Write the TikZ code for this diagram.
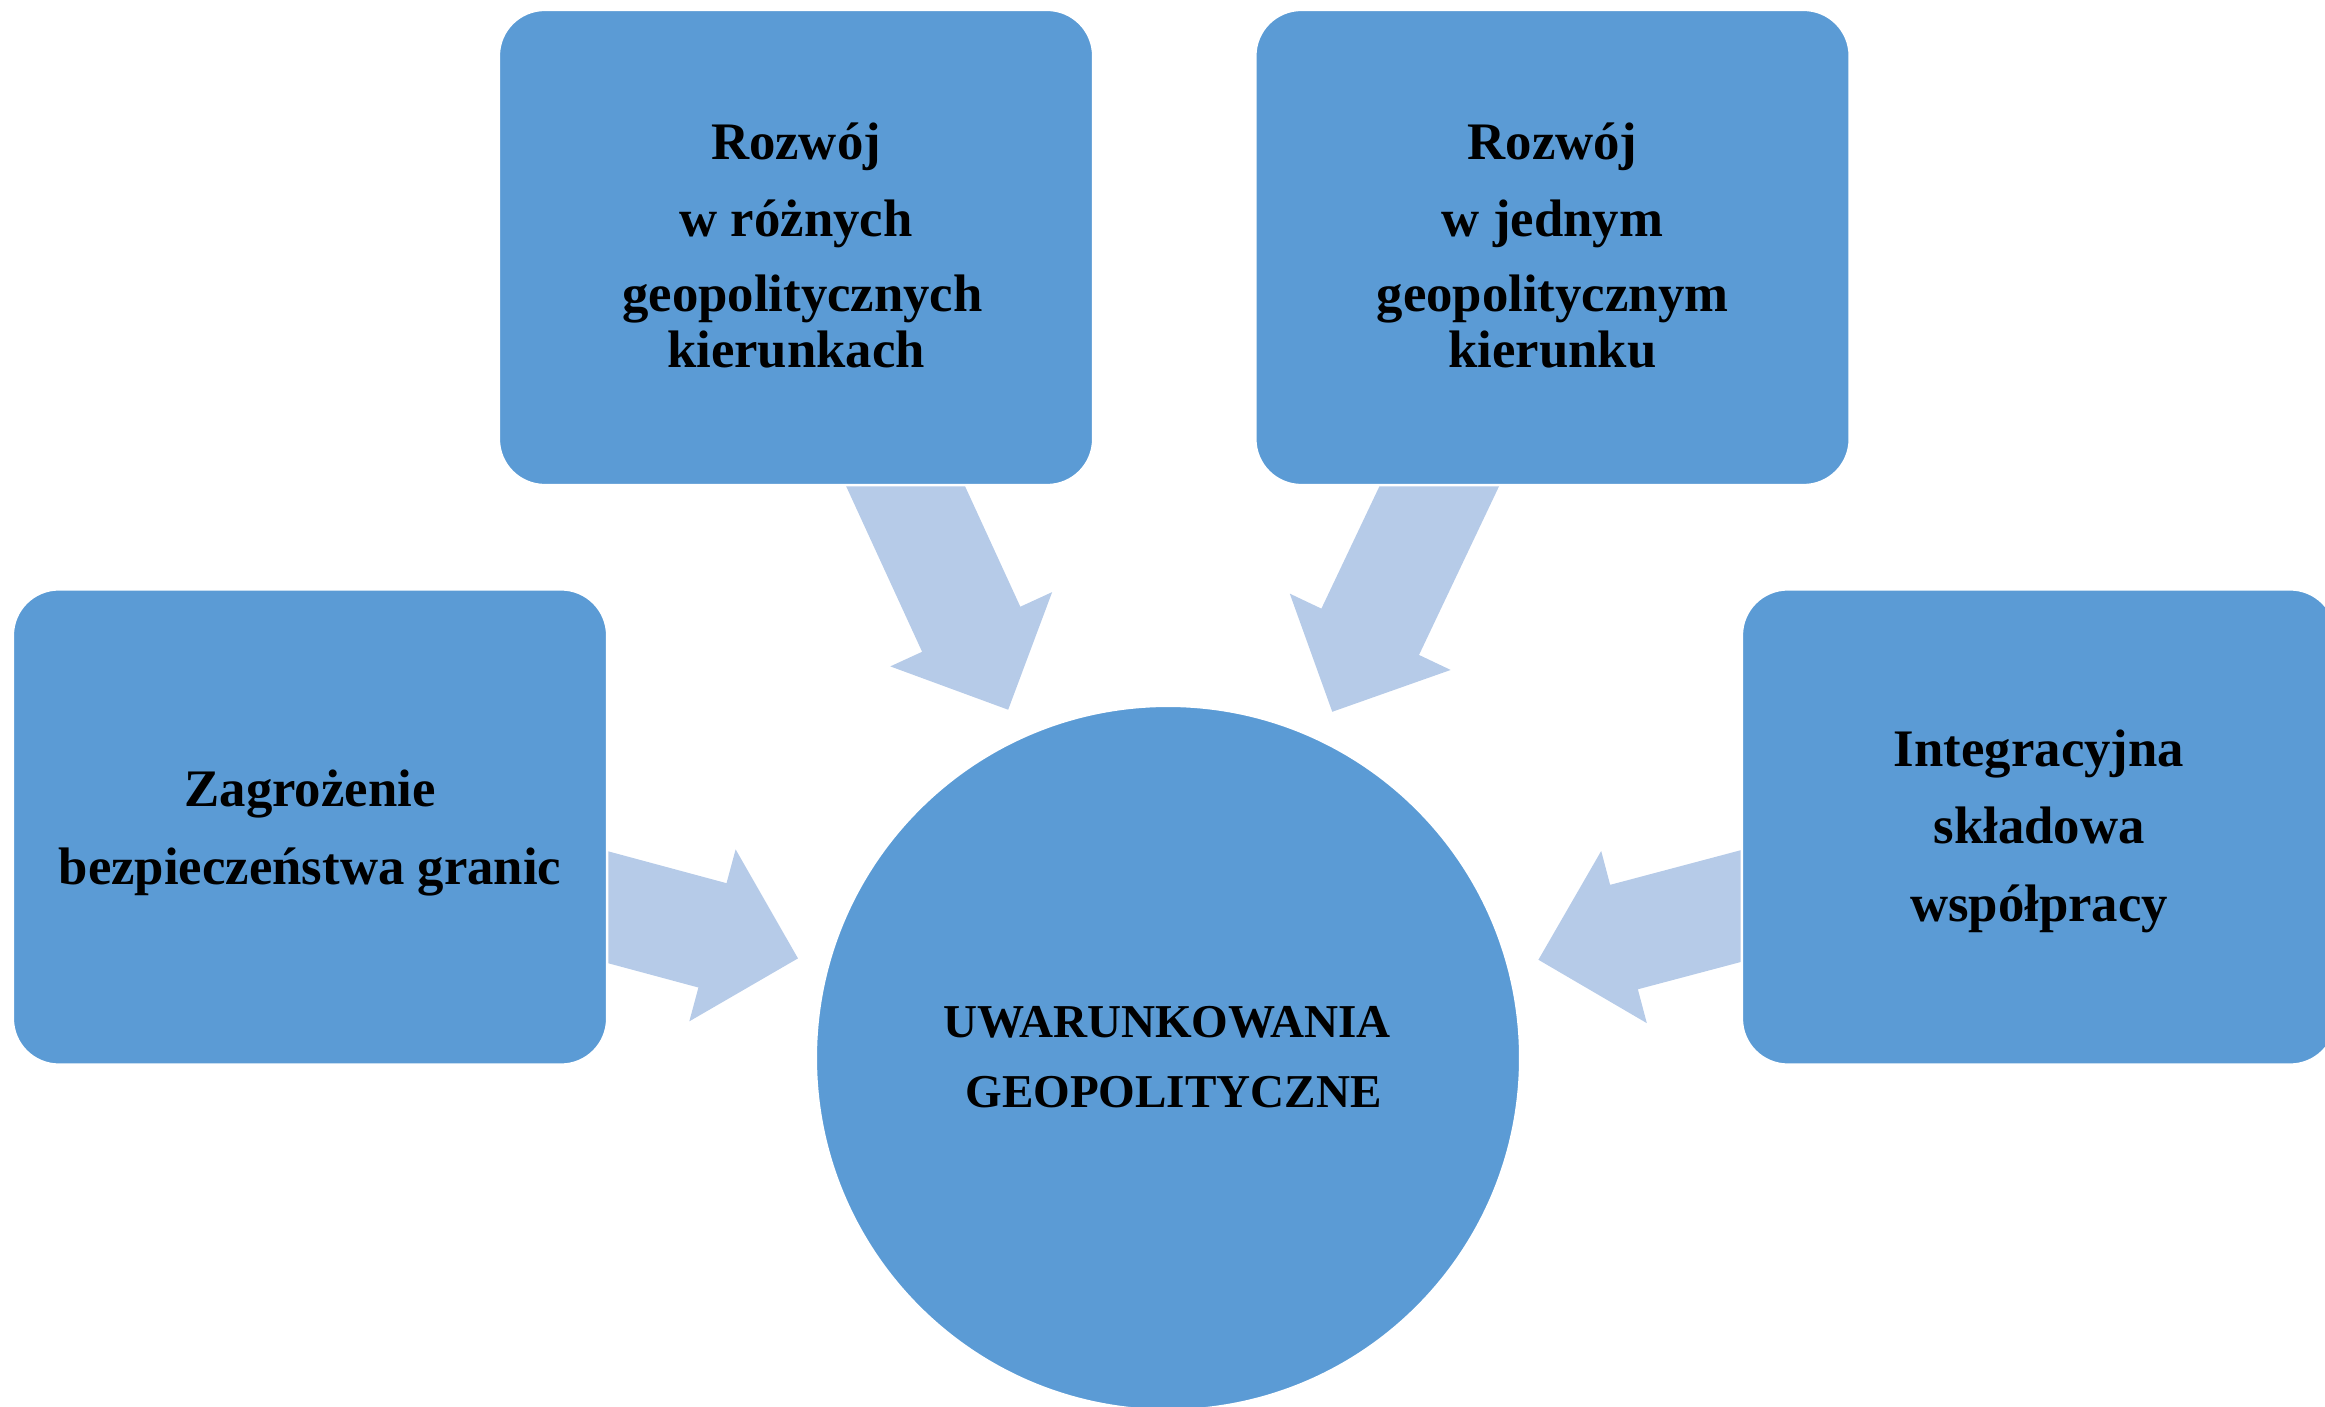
\documentclass[tikz,border=0pt]{standalone}
\usepackage{fontspec}
\setmainfont{Liberation Serif}
\usetikzlibrary{calc,backgrounds}
\definecolor{boxblue}{HTML}{5B9BD5}
\definecolor{arrowblue}{HTML}{B6CBE8}
\newcommand\radarrow[2]{%
  \coordinate (aT) at ($(#2.center)!3.83cm!(#1.center)$);
  \coordinate (aH) at ($(aT)!0.885cm!(#1.center)$);
  \fill[arrowfill] (aT)
    -- ($(aH)!0.89cm!90:(#1.center)$)
    -- ($(aH)!0.54cm!90:(#1.center)$)
    -- ($(#1.center)!0.54cm!-90:(aT)$)
    -- ($(#1.center)!0.54cm!90:(aT)$)
    -- ($(aH)!0.54cm!-90:(#1.center)$)
    -- ($(aH)!0.89cm!-90:(#1.center)$)
    -- cycle;}
\begin{document}
\begin{tikzpicture}[x=0.01cm,y=-0.01cm,
  box/.style={draw=white, line width=0.7pt, fill=boxblue, rounded corners=0.46cm,
    minimum width=5.94cm, minimum height=4.75cm, inner sep=0pt},
  hub/.style={circle, draw=white, line width=0.7pt, fill=boxblue,
    minimum size=7.04cm, inner sep=0pt},
  arrowfill/.style={fill=arrowblue},
  boxtext/.style={anchor=base, inner sep=0pt, font=\fontsize{15}{18}\selectfont\bfseries},
  hubtext/.style={anchor=base, inner sep=0pt, font=\fontsize{13.4}{16}\selectfont\bfseries}]
\useasboundingbox (0,0) rectangle (2325,1407);
\clip (0,0) rectangle (2325,1407);

% shapes
\node[box] (tl) at (796,247.5) {};
\node[box] (tr) at (1552.5,247.5) {};
\node[box] (lb) at (310,827) {};
\node[box] (rb) at (2039,827) {};
\node[hub] (c) at (1168,1058) {};

% arrows behind
\begin{scope}[on background layer]
  \radarrow{tl}{c}
  \radarrow{tr}{c}
  \radarrow{lb}{c}
  \radarrow{rb}{c}
\end{scope}

% texts
\node[boxtext] (tl1) at (796,160) {Rozwój};
\node[boxtext] (tl2) at (796,237) {w różnych};
\node[boxtext] (tl3) at (802.5,312) {geopolitycznych};
\node[boxtext] (tl4) at (796,368) {kierunkach};

\node[boxtext] (tr1) at (1552.5,160) {Rozwój};
\node[boxtext] (tr2) at (1552.5,237) {w jednym};
\node[boxtext] (tr3) at (1552.5,312) {geopolitycznym};
\node[boxtext] (tr4) at (1552.5,368) {kierunku};

\node[boxtext] (lb1) at (310,806) {Zagrożenie};
\node[boxtext] (lb2) at (310,884) {bezpieczeństwa granic};

\node[boxtext] (rb1) at (2039,767) {Integracyjna};
\node[boxtext] (rb2) at (2039,843) {składowa};
\node[boxtext] (rb3) at (2039,921) {współpracy};

\node[hubtext] (c1) at (1167,1037.5) {UWARUNKOWANIA};
\node[hubtext] (c2) at (1173.5,1107) {GEOPOLITYCZNE};
\end{tikzpicture}
\end{document}
